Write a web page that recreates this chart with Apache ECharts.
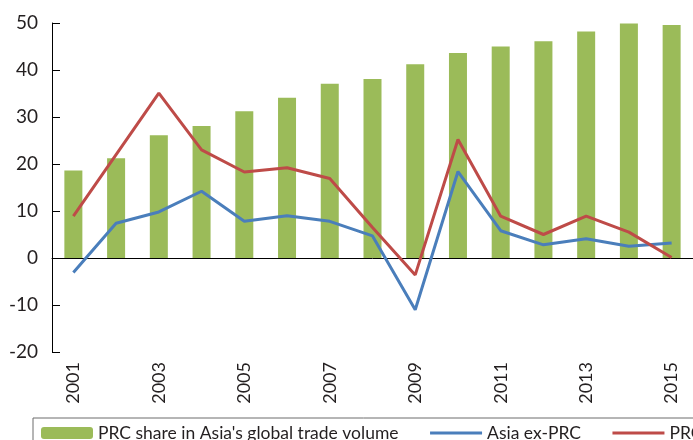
<!DOCTYPE html>
<html lang="en">
<head>
    <meta charset="UTF-8">
    <title>PRC trade share</title>
    <script src="https://cdn.jsdelivr.net/npm/echarts@6.0.0/dist/echarts.min.js"></script>
    <style>
        html, body { margin: 0; padding: 0; background: #fff; }
        #chart { width: 693px; height: 440px; }
    </style>
</head>
<body>
<div id="chart"></div>
<script>
    const years = ['2001','2002','2003','2004','2005','2006','2007','2008','2009','2010','2011','2012','2013','2014','2015'];
    const prcShare = [18.6, 21.2, 26.1, 28.1, 31.2, 34.1, 37.1, 38.1, 41.2, 43.6, 45.0, 46.1, 48.2, 49.9, 49.6];
    const asiaExPrc = [-3.1, 7.4, 9.8, 14.2, 7.8, 9.0, 7.8, 4.7, -11.0, 18.4, 5.8, 2.8, 4.1, 2.5, 3.2];
    const prc = [8.9, 22.0, 35.1, 23.0, 18.3, 19.2, 16.9, 6.5, -3.6, 25.2, 8.9, 5.0, 8.9, 5.5, 0.1];
    const yTicks = [-20, 50, 10];  // min, max, step

    const font = 'Lato, "Open Sans", sans-serif';
    const textColor = '#231f20';

    const chart = echarts.init(document.getElementById('chart'));
    chart.setOption({
        animation: false,
        backgroundColor: '#fff',
        grid: { left: 52, top: 23, right: -9, bottom: 88, containLabel: false },
        legend: {
            left: 33, top: 418, width: 800,
            padding: [6, 8, 10, 8],
            borderColor: '#6d6d6d', borderWidth: 1,
            itemWidth: 52, itemHeight: 12, itemGap: 30,
            textStyle: { fontFamily: font, fontSize: 17.5, color: textColor },
            data: [
                "PRC share in Asia's global trade volume",
                { name: 'Asia ex-PRC', itemStyle: { opacity: 0 }, lineStyle: { width: 3 } },
                { name: 'PRC', itemStyle: { opacity: 0 }, lineStyle: { width: 3 } }
            ]
        },
        xAxis: [{
            type: 'category', data: years,
            axisLine: { onZero: true, lineStyle: { color: '#000', width: 1 } },
            axisTick: { inside: true, interval: 0, length: 8, lineStyle: { color: '#aaa', width: 1.5 } },
            axisLabel: { show: false }
        }, {
            type: 'category', data: years, position: 'bottom',
            axisLine: { show: false, onZero: false },
            axisTick: { show: false },
            axisLabel: {
                interval: 1, rotate: 90, margin: 10,
                fontFamily: font, fontSize: 18, color: textColor
            }
        }],
        yAxis: {
            type: 'value', min: yTicks[0], max: yTicks[1], interval: yTicks[2],
            axisLine: { show: true, lineStyle: { color: '#000', width: 1 } },
            axisTick: { show: true, inside: true, length: 8, lineStyle: { color: '#000' } },
            splitLine: { show: false },
            axisLabel: { margin: 14, fontFamily: font, fontSize: 19, color: textColor }
        },
        series: [{
            name: "PRC share in Asia's global trade volume",
            type: 'bar', data: prcShare, barWidth: 18,
            itemStyle: { color: '#9bbb59' }
        }, {
            name: 'Asia ex-PRC', type: 'line', data: asiaExPrc,
            symbol: 'none', lineStyle: { color: '#4a7ebb', width: 3 },
            itemStyle: { color: '#4a7ebb' }
        }, {
            name: 'PRC', type: 'line', data: prc,
            symbol: 'none', lineStyle: { color: '#be4b48', width: 3 },
            itemStyle: { color: '#be4b48' }
        }]
    });
</script>
</body>
</html>
